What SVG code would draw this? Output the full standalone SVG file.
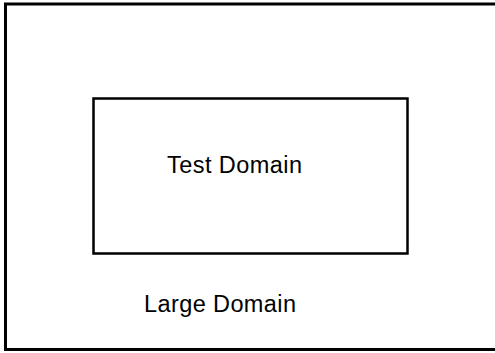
<svg xmlns="http://www.w3.org/2000/svg" width="495" height="353" viewBox="0 0 495 353">
<style>
.box{fill:none;stroke:#000}
.lbl{font-family:"Liberation Sans",Arial,sans-serif;font-size:23.5px;fill:#000}
</style>
<rect width="495" height="353" fill="#fff"/>
<g id="large-domain">
<rect class="box" x="5.5" y="4" width="500" height="345.5" stroke-width="3"/>
<text class="lbl" x="144" y="311.5" textLength="152" lengthAdjust="spacing">Large Domain</text>
</g>
<g id="test-domain">
<rect class="box" x="93.5" y="98.5" width="314" height="155" stroke-width="2.5"/>
<text class="lbl" x="167" y="172.5" textLength="135" lengthAdjust="spacing">Test Domain</text>
</g>
<g id="connectors"></g>
</svg>
